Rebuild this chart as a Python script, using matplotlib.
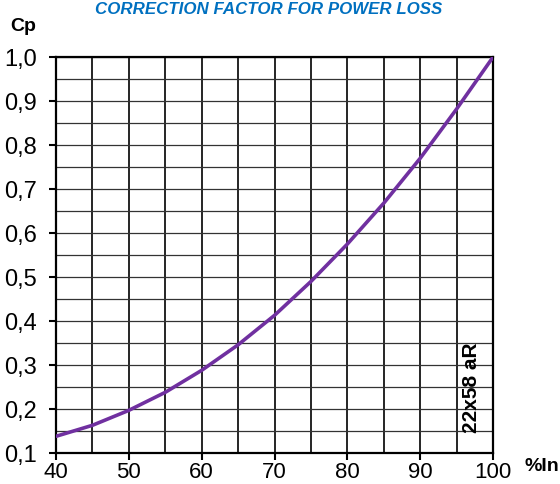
import numpy as np
import matplotlib
matplotlib.use('Agg')
import matplotlib.pyplot as plt
from matplotlib.ticker import MultipleLocator, FuncFormatter

# Load current (%In) vs correction factor for power loss (Cp)
current_pct = [40, 45, 50, 55, 60, 65, 70, 75, 80, 85, 90, 95, 100]
cp_values = [0.138, 0.163, 0.197, 0.238, 0.288, 0.346, 0.413, 0.490,
             0.575, 0.668, 0.770, 0.882, 1.0]

x_ticks = [40, 50, 60, 70, 80, 90, 100]
y_ticks = [0.1, 0.2, 0.3, 0.4, 0.5, 0.6, 0.7, 0.8, 0.9, 1.0]

plt.rcParams['font.family'] = ['Liberation Sans', 'DejaVu Sans']

fig = plt.figure(figsize=(5.6, 4.84), dpi=100)
ax = fig.add_axes([0.1, 0.064, 0.7804, 0.818])

# Grid: vertical every 5 %, horizontal every 0.05
ax.xaxis.set_minor_locator(MultipleLocator(5))
ax.yaxis.set_minor_locator(MultipleLocator(0.05))
ax.grid(which='both', axis='x', color='black', linewidth=1.2)
ax.grid(which='both', axis='y', color='#333333', linewidth=0.9)
ax.set_axisbelow(True)

ax.plot(current_pct, cp_values, color='#7030A0', linewidth=2.6,
        solid_capstyle='round', solid_joinstyle='round', zorder=3)

ax.set_xlim(40, 100)
ax.set_ylim(0.1, 1.0)
ax.set_xticks(x_ticks)
ax.set_yticks(y_ticks)
ax.yaxis.set_major_formatter(FuncFormatter(lambda v, p: f'{v:.1f}'.replace('.', ',')))
ax.tick_params(which='major', length=5, width=1.5, labelsize=17, direction='out')
ax.tick_params(axis='y', pad=9)
ax.tick_params(axis='x', pad=1.5, labelsize=16)
ax.tick_params(which='minor', length=0)

for sp in ax.spines.values():
    sp.set_linewidth(1.6)
    sp.set_color('black')

# Texts
fig.text(0.48, 0.971, 'CORRECTION FACTOR FOR POWER LOSS', color='#0070C0',
         fontsize=12.2, fontweight='bold', fontstyle='italic',
         ha='center', va='baseline')
fig.text(0.018, 0.945, 'Cp', fontsize=14, fontweight='bold', ha='left', va='center')
ax.text(1.073, -0.013, '%In', transform=ax.transAxes, fontsize=14,
        fontweight='bold', ha='left', va='top')
ax.text(97.1, 0.248, '22x58 aR', rotation=90, fontsize=15, fontweight='bold',
        ha='center', va='center')

fig.savefig('out.png', dpi=100)
